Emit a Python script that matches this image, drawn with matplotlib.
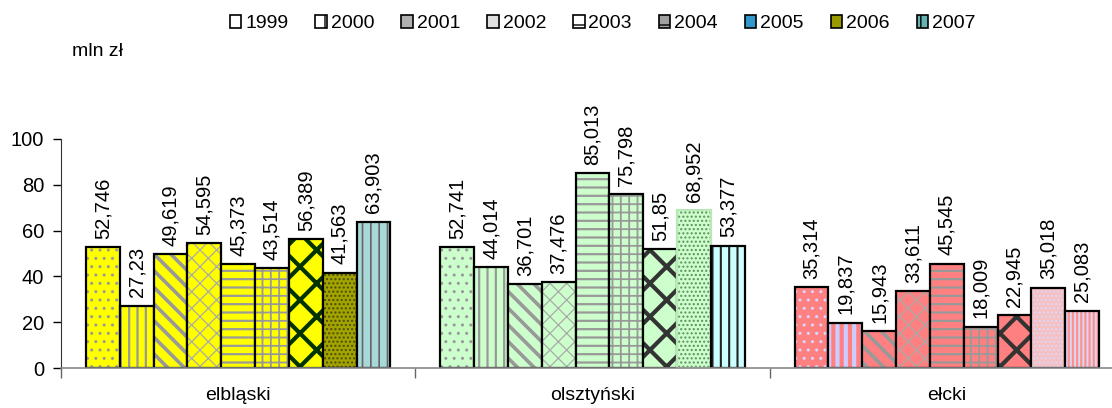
import matplotlib

matplotlib.use("Agg")
import matplotlib.pyplot as plt
from matplotlib.patches import Patch

plt.rcParams["font.family"] = ["Liberation Sans", "DejaVu Sans"]

regions = ["elbląski", "olsztyński", "ełcki"]
years = ["1999", "2000", "2001", "2002", "2003", "2004", "2005", "2006", "2007"]
values = {
    "elbląski": [52.746, 27.23, 49.619, 54.595, 45.373, 43.514, 56.389, 41.563, 63.903],
    "olsztyński": [52.741, 44.014, 36.701, 37.476, 85.013, 75.798, 51.85, 68.952, 53.377],
    "ełcki": [35.314, 19.837, 15.943, 33.611, 45.545, 18.009, 22.945, 35.018, 25.083],
}
y_ticks = [0, 20, 40, 60, 80, 100]

# base fill per region, pattern per year (excel-like)
FACE = {"elbląski": "#FFFF00", "olsztyński": "#CCFFCC", "ełcki": "#FF8080"}
GRAY = "#999999"
PATTERN = [  # hatch, hatch colour, hatch linewidth
    ("..", GRAY, 1.0),
    ("||", GRAY, 1.6),
    ("\\\\", GRAY, 2.6),
    ("xx", "#aaaaaa", 0.9),
    ("--", GRAY, 1.6),
    ("++", GRAY, 1.3),
    ("x", "#003300", 3.0),
    ("....", "#555500", 1.0),
    ("||", "#555555", 1.2),
]
# (region, year index) -> face, hatch, hatch colour, hatch lw, edge colour
SPECIAL = {
    ("olsztyński", 6): ("#CCFFCC", "x", "#333333", 3.0, "black"),
    ("ełcki", 6): ("#FF8080", "x", "#333333", 3.0, "black"),
    ("elbląski", 7): ("#a3a300", "....", "#4d4d00", 1.0, "black"),
    ("olsztyński", 7): ("#CCFFCC", "....", "#5f8f5f", 1.0, "#b8e8b8"),
    ("ełcki", 7): ("#f7c0c0", "....", "#d8d8ff", 1.0, "black"),
    ("elbląski", 8): ("#A8D8D8", "||", "#666666", 1.2, "black"),
    ("olsztyński", 8): ("#CCFFFF", "||", "#222222", 1.5, "black"),
    ("ełcki", 8): ("#d8d8f0", "||||", "#FF9090", 1.6, "black"),
    ("ełcki", 0): ("#FF8080", "..", "#d8d8ff", 1.0, "black"),
    ("ełcki", 1): ("#FF8080", "||", "#ccccff", 3.0, "black"),
}

fig = plt.figure(figsize=(11.12, 4.08), dpi=100)
ax = fig.add_axes([61 / 1112, 40 / 408, 1063 / 1112, 229 / 408])

n = len(years)
width = 0.859 / n
for gi, reg in enumerate(regions):
    for si, val in enumerate(values[reg]):
        if (reg, si) in SPECIAL:
            face, hatch, hcol, hlw, edge = SPECIAL[(reg, si)]
        else:
            hatch, hcol, hlw = PATTERN[si]
            face, edge = FACE[reg], "black"
        x = gi + (si - (n - 1) / 2) * width
        with plt.rc_context({"hatch.linewidth": hlw}):
            b = ax.bar(x, val, width, color=face, hatch=hatch, edgecolor=hcol, linewidth=0)
            for p in b:
                if hasattr(p, "set_hatch_linewidth"):
                    p.set_hatch_linewidth(hlw)
        ax.bar(x, val, width, fill=False, edgecolor=edge, linewidth=1.6)
        ax.annotate(("%g" % val).replace(".", ","), (x, val), xytext=(0, 6),
                    textcoords="offset points", rotation=90, ha="center", va="bottom",
                    fontsize=14.5, annotation_clip=False)

ax.set_xlim(-0.5, 2.5)
ax.set_ylim(0, 100)
ax.set_yticks(y_ticks)
ax.tick_params(axis="y", labelsize=14.5, length=6, width=1, direction="out", pad=6)
ax.set_xticks([-0.5, 0.5, 1.5, 2.5])
ax.set_xticklabels([])
ax.tick_params(axis="x", which="major", length=7, width=1, color="#666666")
ax.set_xticks(range(len(regions)), minor=True)
ax.set_xticklabels(regions, minor=True)
ax.tick_params(axis="x", which="minor", length=0, labelsize=14, pad=14)
for s in ("top", "right"):
    ax.spines[s].set_visible(False)
ax.spines["left"].set_color("#333333")
ax.spines["bottom"].set_color("#888888")
ax.spines["bottom"].set_linewidth(1.2)

fig.text(72 / 1112, 1 - 52 / 408, "mln zł", fontsize=14, va="center")

leg_face = ["white", "white", "#b0b0b0", "#e0e0e0", "white", "#a0a0a0", "#3399cc", "#999900", "#66b2b2"]
leg_hatch = ["", "|", "", "/", "-", "+", "", "", "||"]
handles = [Patch(facecolor=f, edgecolor="black", hatch=h, linewidth=1.2)
           for f, h in zip(leg_face, leg_hatch)]
fig.legend(handles, years, loc="upper center", bbox_to_anchor=(0.542, 1.005), ncol=9,
           frameon=False, fontsize=14, handlelength=0.6, handleheight=0.6,
           handletextpad=0.2, columnspacing=1.38)

fig.savefig("out.png", dpi=100)
